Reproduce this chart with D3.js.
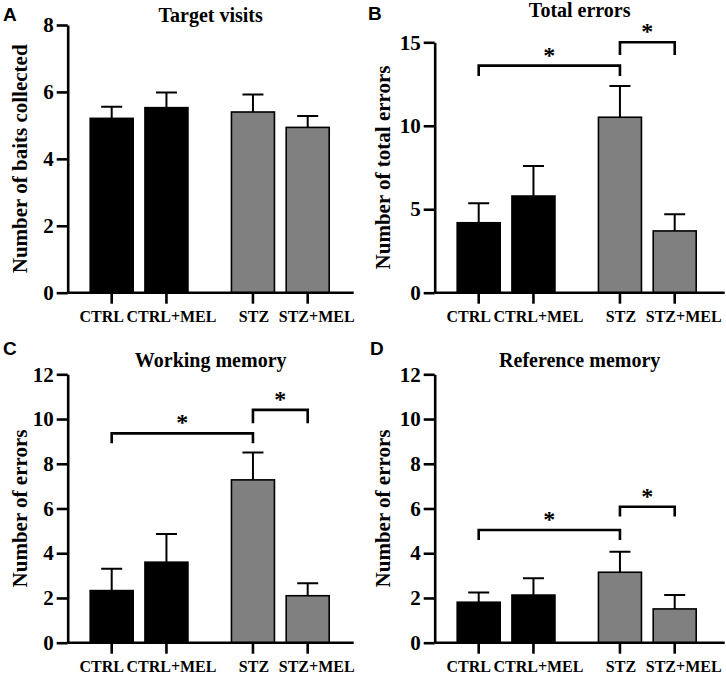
<!DOCTYPE html>
<html>
<head>
<meta charset="utf-8">
<script src="https://cdn.jsdelivr.net/npm/d3@7"></script>
<style>
  body { margin: 0; background: #fff; }
  svg { display: block; }
  .tick text { font-family: "Liberation Serif", serif; font-weight: bold; }
</style>
</head>
<body>
<div id="chart"></div>
<script>
// groups on the x axis
const categories = ["CTRL", "CTRL+MEL", "STZ", "STZ+MEL"];
const barFills = ["#000000", "#000000", "#808080", "#808080"];

// A - target visits
const targetVisitsMean = [5.21, 5.53, 5.40, 4.94];
const targetVisitsSem = [0.35, 0.45, 0.52, 0.34];
const targetVisitsTicks = [0, 2, 4, 6, 8];

// B - total errors
const totalErrorsMean = [4.19, 5.79, 10.51, 3.70];
const totalErrorsSem = [1.17, 1.80, 1.87, 1.00];
const totalErrorsTicks = [0, 5, 10, 15];

// C - working memory
const workingMean = [2.33, 3.60, 7.28, 2.10];
const workingSem = [0.98, 1.26, 1.22, 0.56];

// D - reference memory
const referenceMean = [1.81, 2.13, 3.15, 1.51];
const referenceSem = [0.43, 0.75, 0.92, 0.62];
const errorTicks = [0, 2, 4, 6, 8, 10, 12];

// significance brackets: [from, to, bar level, leg end]
const totalErrorsSig = [["CTRL", "STZ", 13.6, 12.98], ["STZ", "STZ+MEL", 15.0, 14.24]];
const workingSig = [["CTRL", "STZ", 9.36, 8.92], ["STZ", "STZ+MEL", 10.41, 9.81]];
const referenceSig = [["CTRL", "STZ", 5.04, 4.59], ["STZ", "STZ+MEL", 6.08, 5.64]];

const panels = [
    { letter: "A", title: "Target visits", ylabel: "Number of baits collected",
      mean: targetVisitsMean, sem: targetVisitsSem, ticks: targetVisitsTicks, sig: [],
      left: 67.7, top: 25, bottom: 292.7, w: 286, titleY: 22, labelX: 27, letterX: 3, letterY: 21 },
    { letter: "B", title: "Total errors", ylabel: "Number of total errors",
      mean: totalErrorsMean, sem: totalErrorsSem, ticks: totalErrorsTicks, sig: totalErrorsSig,
      left: 434.7, top: 42.3, bottom: 292.7, w: 290, titleY: 17, labelX: 390, letterX: 368, letterY: 20 },
    { letter: "C", title: "Working memory", ylabel: "Number of errors",
      mean: workingMean, sem: workingSem, ticks: errorTicks, sig: workingSig,
      left: 67.7, top: 374.3, bottom: 642.7, w: 286, titleY: 367, labelX: 27, letterX: 3, letterY: 355 },
    { letter: "D", title: "Reference memory", ylabel: "Number of errors",
      mean: referenceMean, sem: referenceSem, ticks: errorTicks, sig: referenceSig,
      left: 434.7, top: 374.3, bottom: 642.7, w: 290, titleY: 367, labelX: 390, letterX: 370, letterY: 355 }
];

const width = 726, height = 675;
const groupGap = 0.58;      // extra space between CTRL and STZ groups
const barWidth = 43;
const capWidth = 21;
const labelNudge = [-10, 5, 1, 9];
const serif = "'Liberation Serif', serif";

const svg = d3.select("#chart").append("svg")
    .attr("width", width)
    .attr("height", height);

const pos = i => i + (i >= 2 ? groupGap : 0);

panels.forEach(p => {
    const g = svg.append("g")
        .attr("transform", `translate(${p.left},0)`);

    const x = d3.scaleLinear()
        .domain([0, pos(3)])
        .range([44, 240]);
    const y = d3.scaleLinear()
        .domain([0, d3.max(p.ticks)])
        .range([p.bottom, p.top]);

    const rows = categories.map((c, i) => ({ cat: c, i: i, mean: p.mean[i], sem: p.sem[i], fill: barFills[i] }));

    // bars
    g.selectAll(".bar")
        .data(rows)
        .join("rect")
        .attr("class", "bar")
        .attr("x", d => x(pos(d.i)) - barWidth / 2)
        .attr("y", d => y(d.mean))
        .attr("width", barWidth)
        .attr("height", d => y(0) - y(d.mean))
        .attr("fill", d => d.fill)
        .attr("stroke", "#000")
        .attr("stroke-width", 1.6);

    // error bars (upper only)
    g.selectAll(".err")
        .data(rows)
        .join("path")
        .attr("class", "err")
        .attr("d", d => {
            const cx = x(pos(d.i));
            return `M${cx},${y(d.mean)}V${y(d.mean + d.sem)}M${cx - capWidth / 2},${y(d.mean + d.sem)}H${cx + capWidth / 2}`;
        })
        .attr("fill", "none")
        .attr("stroke", "#000")
        .attr("stroke-width", 2);

    // y axis
    const yAxis = g.append("g")
        .call(d3.axisLeft(y).tickValues(p.ticks).tickSize(11).tickSizeOuter(0).tickPadding(3));
    yAxis.select(".domain").attr("stroke-width", 2.6);
    yAxis.selectAll(".tick line").attr("stroke-width", 2.6);
    yAxis.selectAll(".tick text").attr("font-size", 21).attr("fill", "#000");

    // x axis
    const xAxis = g.append("g")
        .attr("transform", `translate(0,${p.bottom})`);
    xAxis.append("line")
        .attr("x1", 0).attr("x2", p.w)
        .attr("stroke", "#000").attr("stroke-width", 2.6);
    xAxis.selectAll(".xtick")
        .data(rows)
        .join("line")
        .attr("class", "xtick")
        .attr("x1", d => x(pos(d.i))).attr("x2", d => x(pos(d.i)))
        .attr("y1", 0).attr("y2", 11)
        .attr("stroke", "#000").attr("stroke-width", 2.6);
    xAxis.selectAll(".xlabel")
        .data(rows)
        .join("text")
        .attr("class", "xlabel")
        .attr("x", d => x(pos(d.i)) + labelNudge[d.i])
        .attr("y", 29.5)
        .attr("text-anchor", "middle")
        .attr("font-family", serif)
        .attr("font-weight", "bold")
        .attr("font-size", 16)
        .text(d => d.cat);

    // significance brackets
    p.sig.forEach(s => {
        const x1 = x(pos(categories.indexOf(s[0])));
        const x2 = x(pos(categories.indexOf(s[1])));
        g.append("path")
            .attr("d", `M${x1},${y(s[3])}V${y(s[2])}H${x2}V${y(s[3])}`)
            .attr("fill", "none")
            .attr("stroke", "#000")
            .attr("stroke-width", 2.6);
        g.append("text")
            .attr("x", (x1 + x2) / 2)
            .attr("y", y(s[2]) - 3)
            .attr("text-anchor", "middle")
            .attr("font-family", serif)
            .attr("font-weight", "bold")
            .attr("font-size", 24)
            .text("*");
    });

    // title
    g.append("text")
        .attr("x", p.w / 2)
        .attr("y", p.titleY)
        .attr("text-anchor", "middle")
        .attr("font-family", serif)
        .attr("font-weight", "bold")
        .attr("font-size", 20)
        .text(p.title);

    // y label
    svg.append("text")
        .attr("transform", `translate(${p.labelX},${(p.top + p.bottom) / 2}) rotate(-90)`)
        .attr("text-anchor", "middle")
        .attr("font-family", serif)
        .attr("font-weight", "bold")
        .attr("font-size", 21)
        .text(p.ylabel);

    // panel letter
    svg.append("text")
        .attr("x", p.letterX)
        .attr("y", p.letterY)
        .attr("font-family", "'Liberation Sans', Arial, sans-serif")
        .attr("font-weight", "bold")
        .attr("font-size", 19)
        .text(p.letter);
});
</script>
</body>
</html>
